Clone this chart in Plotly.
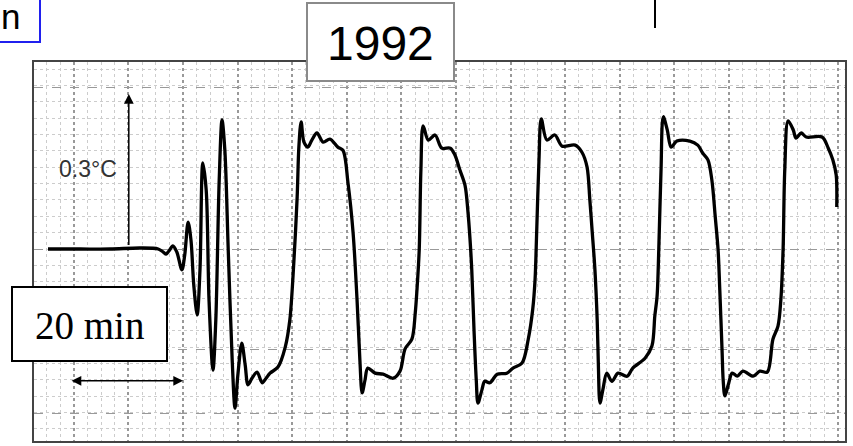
import plotly.graph_objects as go

# Chart-recorder trace: time (min) vs temperature deviation (°C) from baseline
time_min = [0, 5.7, 11.0, 16.3, 19.5, 20.4, 20.9, 21.4, 22.1, 22.8, 23.7, 24.2, 24.8, 25.3, 25.8,
            26.4, 26.9, 27.4, 28.0, 28.5, 29.2, 29.7, 30.3, 30.8, 31.3, 31.9, 32.6, 33.1, 33.6,
            34.3, 34.9, 35.4, 36.1, 37.0, 37.9, 38.6, 39.3, 40.7, 42.0, 42.8, 43.5, 44.1, 44.4,
            44.8, 45.3, 46.0, 46.7, 47.6, 48.7, 49.9, 51.3, 52.2, 53.1, 54.0, 54.7, 55.2, 55.6,
            56.1, 56.6, 57.9, 59.3, 61.1, 62.3, 63.2, 64.4, 65.0, 65.3, 65.7, 66.0, 66.4, 67.3,
            68.5, 69.7, 71.2, 72.0, 72.9, 73.8, 74.3, 74.7, 75.0, 75.4, 75.8, 76.1, 76.8, 77.3,
            78.2, 79.5, 81.2, 82.3, 83.9, 85.0, 85.8, 86.2, 86.5, 86.9, 87.3, 88.3, 89.7, 91.0,
            93.3, 94.5, 95.4, 95.9, 96.3, 96.8, 97.2, 97.4, 97.7, 98.2, 98.9, 99.8, 100.9, 102.5,
            103.5, 105.7, 106.9, 107.4, 107.8, 108.1, 108.5, 108.9, 109.6, 110.3, 111.3, 113.6,
            115.0, 115.9, 116.8, 117.5, 118.1, 118.6, 118.9, 119.3, 119.5, 119.8, 120.4, 121.1,
            122.0, 123.0, 124.8, 126.0, 127.3, 128.3, 129.2, 129.7, 130.1, 130.4, 131.0, 131.9,
            132.4, 133.3, 134.2, 137.0, 138.1, 138.9, 139.5, 139.6]
temp_c = [0, 0, 0, 0.002, 0, -0.006, -0.010, -0.004, 0.006, -0.006, -0.041, -0.012, 0.053, 0.018, -0.071,
          -0.130, -0.041, 0.170, 0.116, -0.101, -0.239, -0.140, 0.136, 0.255, 0.195, -0.002, -0.219, -0.314, -0.249,
          -0.186, -0.229, -0.268, -0.255, -0.243, -0.264, -0.255, -0.245, -0.233, -0.193, -0.140, -0.028, 0.103, 0.201,
          0.251, 0.211, 0.201, 0.215, 0.229, 0.211, 0.217, 0.201, 0.195, 0.130, 0.032, -0.101, -0.219, -0.284,
          -0.259, -0.235, -0.245, -0.247, -0.255, -0.241, -0.197, -0.178, -0.126, -0.081, -0.002, 0.156, 0.243, 0.215,
          0.225, 0.199, 0.199, 0.186, 0.156, 0.126, 0.077, 0.018, -0.041, -0.160, -0.259, -0.304, -0.278, -0.261,
          -0.264, -0.247, -0.245, -0.235, -0.225, -0.178, -0.118, -0.061, 0.037, 0.176, 0.257, 0.215, 0.225, 0.203,
          0.205, 0.191, 0.162, 0.097, 0.037, -0.041, -0.140, -0.225, -0.304, -0.278, -0.245, -0.261, -0.245, -0.251,
          -0.235, -0.215, -0.191, -0.132, -0.093, -0.002, 0.156, 0.261, 0.235, 0.201, 0.213, 0.213,
          0.205, 0.189, 0.176, 0.136, 0.063, -0.002, -0.081, -0.199, -0.259, -0.290, -0.268, -0.245,
          -0.251, -0.241, -0.251, -0.241, -0.243, -0.178, -0.152, -0.101, -0.002, 0.156, 0.253, 0.235,
          0.219, 0.229, 0.221, 0.221, 0.199, 0.176, 0.146, 0.083]

title_text = "1992"
scale_temp_label = "0.3°C"
scale_temp_value = 0.3
scale_time_label = "20 min"
scale_time_start = 3.9
scale_time_value = 20
scale_temp_pos = 14.3
scale_time_level = -0.26

W, H = 853, 446
L, R, T, B = 34, 8, 62, 5
PW, PH = W - L - R, H - T - B

def px(xp):
    return (xp - L) / PW

def py(yp):
    return (H - B - yp) / PH

fig = go.Figure()
fig.add_trace(go.Scatter(x=time_min, y=temp_c, mode="lines",
                         line=dict(color="black", width=3.3, shape="spline", smoothing=0.9),
                         hoverinfo="skip", showlegend=False))

x_range = [-2.478, 141.06]
y_range = [-0.3789, 0.3691]

fig.update_layout(
    width=W, height=H, autosize=False,
    margin=dict(l=L, r=R, t=T, b=B, pad=0),
    paper_bgcolor="white", plot_bgcolor="white",
    font=dict(family="Arial, Liberation Sans, sans-serif", color="black"),
    xaxis=dict(range=x_range, showticklabels=False, ticks="", zeroline=False,
               showline=True, mirror=True, linecolor="#444", linewidth=2,
               tick0=23.89, dtick=9.664, showgrid=True, gridcolor="#999999",
               griddash="dot", gridwidth=1.5,
               minor=dict(tick0=23.89, dtick=2.416, showgrid=True, gridcolor="#cccccc",
                          griddash="dot", gridwidth=1)),
    yaxis=dict(range=y_range, showticklabels=False, ticks="", zeroline=False,
               showline=True, mirror=True, linecolor="#444", linewidth=2,
               tickmode="array", tickvals=[0.3197, 0, -0.1974, -0.3256],
               showgrid=True, gridcolor="#999999", griddash="dash", gridwidth=1.2,
               minor=dict(tick0=0, dtick=0.03227, showgrid=True, gridcolor="#cccccc",
                          griddash="dot", gridwidth=1)),
)

shapes = []
# title box
shapes.append(dict(type="rect", xref="paper", yref="paper",
                   x0=px(307), x1=px(454), y0=py(81), y1=py(3),
                   line=dict(color="#8a8a8a", width=2), fillcolor="white", layer="above"))
# 20 min box
shapes.append(dict(type="rect", xref="paper", yref="paper",
                   x0=px(12), x1=px(167), y0=py(361), y1=py(287),
                   line=dict(color="black", width=2), fillcolor="white", layer="above"))
# blue box top-left (partial)
shapes.append(dict(type="rect", xref="paper", yref="paper",
                   x0=px(-10), x1=px(40), y0=py(42), y1=py(-10),
                   line=dict(color="#2020ee", width=2), fillcolor="rgba(0,0,0,0)", layer="above"))
# vertical line top right
shapes.append(dict(type="line", xref="paper", yref="paper",
                   x0=px(655), x1=px(655), y0=py(28), y1=py(-2),
                   line=dict(color="black", width=2)))
fig.update_layout(shapes=shapes)

ann = []
ann.append(dict(xref="paper", yref="paper", x=px(380.5), y=py(43), text=title_text,
                showarrow=False, font=dict(size=48, family="Arial, Liberation Sans", color="black"),
                xanchor="center", yanchor="middle"))
ann.append(dict(xref="paper", yref="paper", x=px(89.5), y=py(325), text=scale_time_label,
                showarrow=False, font=dict(size=39, family="Liberation Serif, Times New Roman, serif",
                                           color="black"),
                xanchor="center", yanchor="middle"))
ann.append(dict(xref="paper", yref="paper", x=px(0), y=py(16), text="n", borderpad=0,
                showarrow=False, font=dict(size=35, family="Arial, Liberation Sans", color="black"),
                xanchor="left", yanchor="middle"))
ann.append(dict(xref="paper", yref="paper", x=px(88), y=py(169), text=scale_temp_label,
                showarrow=False, font=dict(size=23, family="Arial, Liberation Sans", color="#333"),
                xanchor="center", yanchor="middle"))
# vertical 0.3 °C arrow
ann.append(dict(xref="x", yref="y", axref="x", ayref="y",
                x=scale_temp_pos, y=scale_temp_value + 0.006, ax=scale_temp_pos, ay=0.005,
                text="", showarrow=True, arrowhead=2, arrowsize=1.3, arrowwidth=1.5,
                arrowcolor="black"))
# horizontal 20 min double arrow
ann.append(dict(xref="x", yref="y", axref="x", ayref="y",
                x=scale_time_start + scale_time_value, y=scale_time_level,
                ax=scale_time_start, ay=scale_time_level,
                text="", showarrow=True, arrowhead=2, startarrowhead=2, arrowside="end+start",
                arrowsize=1.3, startarrowsize=1.3, arrowwidth=1.5, arrowcolor="black"))
fig.update_layout(annotations=ann)

fig.write_html("out.html")
